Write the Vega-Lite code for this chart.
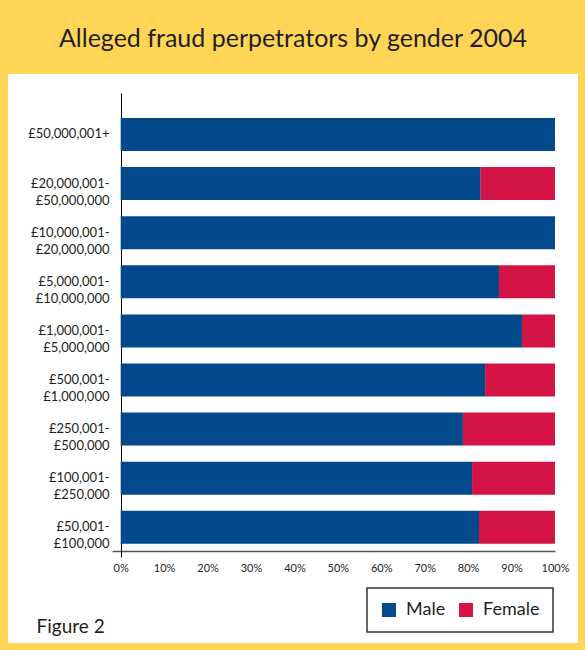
{
  "$schema": "https://vega.github.io/schema/vega-lite/v6.json",
  "autosize": "none",
  "width": 570,
  "height": 569,
  "padding": {"left": 8, "top": 74, "right": 7, "bottom": 7},
  "background": "#FFD457",
  "view": {"fill": "white", "stroke": null},
  "title": {
    "text": "Alleged fraud perpetrators by gender 2004",
    "font": "Lato",
    "fontSize": 25,
    "fontWeight": "normal",
    "color": "#231F20",
    "anchor": "middle",
    "baseline": "alphabetic",
    "offset": 2
  },
  "data": {
    "values": [
      {"range": "£50,000,001+", "gender": "Male", "share": 1.0},
      {"range": "£20,000,001-£50,000,000", "gender": "Male", "share": 0.829},
      {"range": "£20,000,001-£50,000,000", "gender": "Female", "share": 0.171},
      {"range": "£10,000,001-£20,000,000", "gender": "Male", "share": 1.0},
      {"range": "£5,000,001-£10,000,000", "gender": "Male", "share": 0.871},
      {"range": "£5,000,001-£10,000,000", "gender": "Female", "share": 0.129},
      {"range": "£1,000,001-£5,000,000", "gender": "Male", "share": 0.924},
      {"range": "£1,000,001-£5,000,000", "gender": "Female", "share": 0.076},
      {"range": "£500,001-£1,000,000", "gender": "Male", "share": 0.839},
      {"range": "£500,001-£1,000,000", "gender": "Female", "share": 0.161},
      {"range": "£250,001-£500,000", "gender": "Male", "share": 0.788},
      {"range": "£250,001-£500,000", "gender": "Female", "share": 0.212},
      {"range": "£100,001-£250,000", "gender": "Male", "share": 0.809},
      {"range": "£100,001-£250,000", "gender": "Female", "share": 0.191},
      {"range": "£50,001-£100,000", "gender": "Male", "share": 0.825},
      {"range": "£50,001-£100,000", "gender": "Female", "share": 0.175}
    ]
  },
  "mark": {"type": "bar"},
  "encoding": {
    "y": {
      "field": "range",
      "type": "nominal",
      "sort": null,
      "scale": {"range": [19, 483], "paddingInner": 0.328, "paddingOuter": 0.389, "align": 0.654},
      "axis": {
        "title": null,
        "orient": "left",
        "offset": -113,
        "ticks": false,
        "grid": false,
        "domainColor": "#000000",
        "domainWidth": 1,
        "labelFont": "Lato",
        "labelFontSize": 13,
        "labelLineHeight": 17,
        "labelColor": "#231F20",
        "labelPadding": 12,
        "labelExpr": "split(replace(datum.label, '-£', '-|£'), '|')"
      }
    },
    "x": {
      "field": "share",
      "type": "quantitative",
      "stack": "zero",
      "scale": {"domain": [-0.02, 1], "range": [104, 547], "nice": false, "zero": false},
      "axis": {
        "title": "Figure 2",
        "titleFont": "Lato",
        "titleFontSize": 19,
        "titleFontWeight": "normal",
        "titleColor": "#231F20",
        "titleX": 28,
        "titleY": 81,
        "titleAlign": "left",
        "titleBaseline": "alphabetic",
        "titleAnchor": "start",
        "offset": -92,
        "values": [0, 0.1, 0.2, 0.3, 0.4, 0.5, 0.6, 0.7, 0.8, 0.9, 1],
        "format": ".0%",
        "ticks": false,
        "grid": false,
        "domainColor": "#555555",
        "domainWidth": 1.5,
        "labelFont": "Lato",
        "labelFontSize": 11,
        "labelColor": "#231F20",
        "labelPadding": 11,
        "labelFlush": false
      }
    },
    "color": {
      "field": "gender",
      "type": "nominal",
      "sort": ["Male", "Female"],
      "scale": {"domain": ["Male", "Female"], "range": ["#034A8C", "#D31444"]},
      "legend": {
        "title": null,
        "orient": "none",
        "legendX": 359,
        "legendY": 514,
        "direction": "horizontal",
        "gridAlign": "none",
        "symbolType": "square",
        "symbolSize": 196,
        "symbolStrokeWidth": 0,
        "labelFont": "Lato",
        "labelFontSize": 18,
        "labelColor": "#231F20",
        "labelOffset": 8,
        "columnPadding": 11,
        "padding": 13,
        "strokeColor": "#333333",
        "fillColor": "white",
        "encode": {"legend": {"update": {"strokeWidth": {"value": 1.5}}}}
      }
    },
    "order": {"field": "gender", "sort": "descending"}
  }
}
